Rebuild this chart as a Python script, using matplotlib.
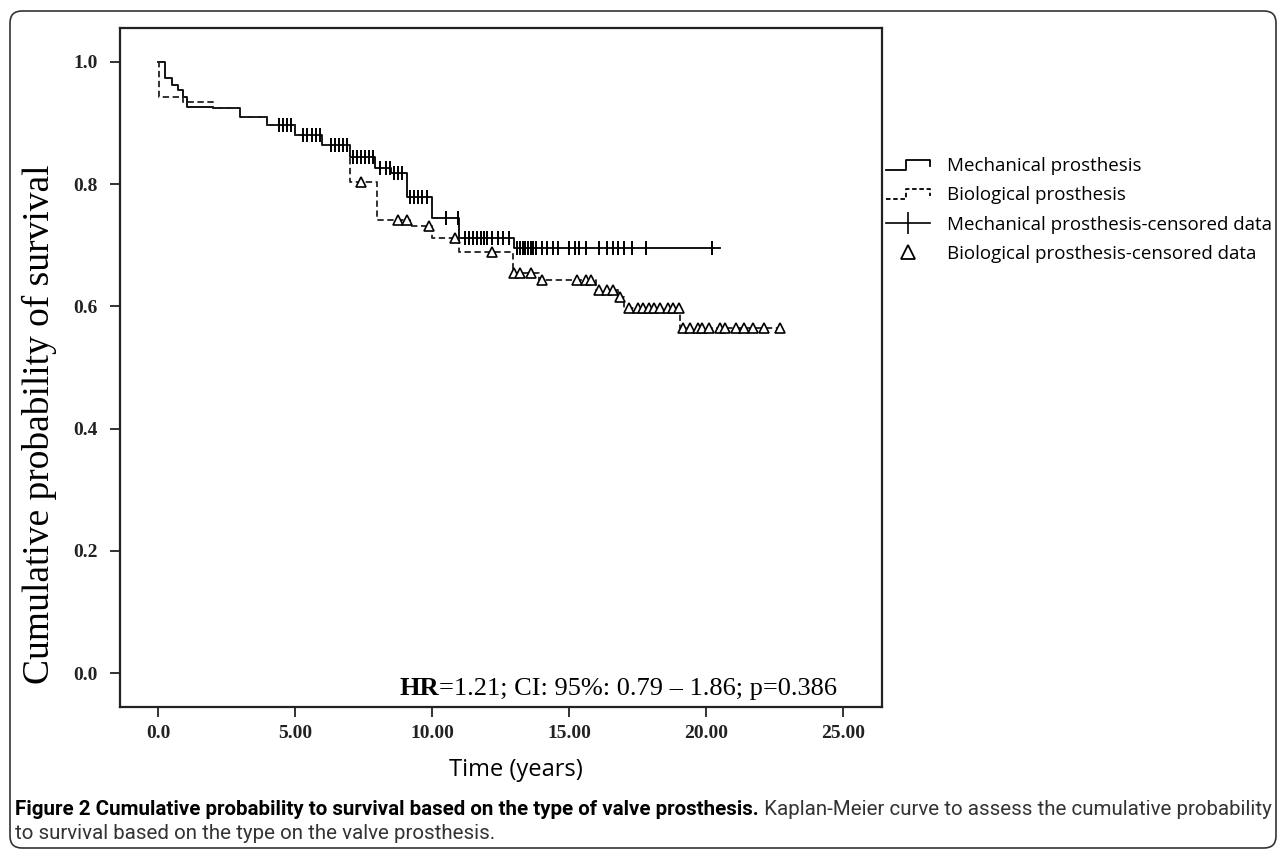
import matplotlib
matplotlib.use('Agg')
import matplotlib.pyplot as plt
import numpy as np
from matplotlib.lines import Line2D
from matplotlib.legend_handler import HandlerBase
from matplotlib.patches import FancyBboxPatch

plt.rcParams.update({
    'font.family': 'Liberation Serif',
    'axes.linewidth': 1.6,
    'axes.edgecolor': '#222222',
})

# Kaplan-Meier steps (time in years, survival)
mech_times = [0, 0.25, 0.5, 0.73, 0.9, 1.06, 2.0, 3.0, 3.97, 5.0, 6.0, 7.0, 7.9, 8.5, 9.1, 10.0, 11.0, 13.0]
mech_surv = [1.0, 0.974, 0.962, 0.954, 0.943, 0.926, 0.924, 0.91, 0.897, 0.88, 0.864, 0.845, 0.826, 0.818,
             0.779, 0.745, 0.712, 0.695]
mech_end = 20.5
mech_censor = [4.4, 4.55, 4.7, 4.85, 5.3, 5.45, 5.6, 5.75, 5.9, 6.3, 6.45, 6.6, 6.75, 6.9,
               7.1, 7.25, 7.4, 7.55, 7.7, 7.85, 8.1, 8.3, 8.45, 8.6, 8.75, 8.9, 9.2, 9.35, 9.5,
               9.65, 9.8, 10.5, 10.95, 11.2, 11.35, 11.5, 11.65, 11.8, 11.9, 12.0, 12.2, 12.4,
               12.6, 12.8, 13.1, 13.2, 13.3, 13.4, 13.5, 13.6, 13.7, 13.8, 14.0, 14.2, 14.4,
               14.6, 15.0, 15.2, 15.35, 15.6, 16.1, 16.4, 16.6, 16.8, 17.0, 17.3, 17.8, 20.2]

bio_times = [0, 0.05, 0.9, 2.0, 3.0, 3.97, 5.0, 6.0, 7.0, 8.0, 9.2, 10.0, 11.0, 12.96, 13.9, 16.0,
             16.8, 17.0, 19.05]
bio_surv = [1.0, 0.943, 0.935, 0.924, 0.91, 0.897, 0.88, 0.864, 0.804, 0.741, 0.732, 0.712, 0.689,
            0.655, 0.643, 0.627, 0.616, 0.597, 0.565]
bio_end = 22.7
bio_censor = [7.4, 8.75, 9.1, 9.9, 10.85, 12.2, 13.0, 13.2, 13.6, 14.0, 15.3, 15.6, 15.8, 16.1,
              16.4, 16.6, 16.85, 17.2, 17.5, 17.7, 17.9, 18.1, 18.3, 18.6, 18.8, 19.0, 19.15,
              19.4, 19.7, 19.85, 20.1, 20.5, 20.7, 21.1, 21.4, 21.7, 22.1, 22.7]

x_ticks = [0, 5, 10, 15, 20, 25]
x_ticklabels = ['0.0', '5.00', '10.00', '15.00', '20.00', '25.00']
y_ticks = [0.0, 0.2, 0.4, 0.6, 0.8, 1.0]
y_ticklabels = ['0.0', '0.2', '0.4', '0.6', '0.8', '1.0']

legend_labels = ['Mechanical prosthesis', 'Biological prosthesis',
                 'Mechanical prosthesis-censored data', 'Biological prosthesis-censored data']


def km_at(times, surv, t):
    idx = np.searchsorted(times, t, side='right') - 1
    return np.asarray(surv)[idx]


class StepHandler(HandlerBase):
    # little step icon like the SPSS legend
    def __init__(self, ls):
        super().__init__()
        self.ls = ls

    def create_artists(self, legend, orig_handle, xdescent, ydescent, width, height, fontsize, trans):
        x0, y0 = -xdescent, -ydescent
        xs = [x0, x0 + 0.45 * width, x0 + 0.45 * width, x0 + width, x0 + width]
        ys = [y0 + 0.1 * height, y0 + 0.1 * height, y0 + 0.85 * height, y0 + 0.85 * height, y0 + 0.35 * height]
        line = Line2D(xs, ys, color='black', lw=1.3, linestyle=self.ls, transform=trans)
        return [line]


fig = plt.figure(figsize=(12.82, 8.55), dpi=100)
ax = fig.add_axes([120 / 1282, 148 / 855, 762 / 1282, 679 / 855])

ax.step(mech_times + [mech_end], mech_surv + [mech_surv[-1]], where='post', color='black', lw=1.3)
ax.step(bio_times + [bio_end], bio_surv + [bio_surv[-1]], where='post', color='#222222', lw=1.3,
        linestyle=(0, (3.5, 2)))
ax.plot(mech_censor, km_at(mech_times, mech_surv, mech_censor), ls='none', marker='|',
        markersize=10, mew=1.4, color='black')
ax.plot(bio_censor, km_at(bio_times, bio_surv, bio_censor), ls='none', marker='^',
        markersize=7.5, mew=1.2, mfc='white', mec='black')

ax.set_xlim(-1.39, 26.42)
ax.set_ylim(-0.0556, 1.0556)
ax.set_xticks(x_ticks)
ax.set_xticklabels(x_ticklabels)
ax.set_yticks(y_ticks)
ax.set_yticklabels(y_ticklabels)
ax.tick_params(axis='both', direction='out', length=7, width=1.3, color='#222222',
               labelsize=14)
ax.tick_params(axis='x', pad=6)
ax.tick_params(axis='y', pad=9)
for lbl in ax.get_xticklabels() + ax.get_yticklabels():
    lbl.set_fontweight('bold')
    lbl.set_color('#222222')

ax.set_ylabel('Cumulative probability of survival', fontsize=27)
ax.yaxis.set_label_coords(-0.083, 0.417)
ax.set_xlabel('Time (years)', fontsize=17, family='Open Sans')
ax.xaxis.set_label_coords(0.52, -0.075)

hr = ax.text(0.367, 0.0177, 'HR', transform=ax.transAxes, fontsize=19, fontweight='bold',
             va='baseline')
ax.annotate('=1.21; CI: 95%: 0.79 \u2013 1.86; p=0.386', xy=(1, 0), xycoords=hr,
            fontsize=19, va='bottom')

# legend outside the plot on the right
h_mech = Line2D([], [], color='black')
h_bio = Line2D([], [], color='black')
h_mc = Line2D([], [], color='black', lw=1.2, marker='|', markersize=16, mew=1.2)
h_bc = Line2D([], [], ls='none', marker='^', markersize=10, mew=1.3, mfc='white', mec='black')
fig.legend([h_mech, h_bio, h_mc, h_bc], legend_labels,
           handler_map={h_mech: StepHandler('-'), h_bio: StepHandler((0, (2.5, 1.5)))},
           loc='upper left', bbox_to_anchor=(886 / 1282, 1 - 157 / 855), frameon=False,
           borderpad=0, borderaxespad=0, handlelength=2.35, handletextpad=0.9,
           labelspacing=0.6, prop={'family': 'Open Sans', 'size': 13.5})

# caption under the figure
cap_font = 'Roboto'
c1 = fig.text(15 / 1282, 1 - 809 / 855,
              'Figure 2 Cumulative probability to survival based on the type of valve prosthesis.',
              fontsize=14.8, fontweight='bold', family=cap_font, va='center')
fig.text(15 / 1282, 1 - 833 / 855, 'to survival based on the type on the valve prosthesis.',
         fontsize=14.8, family=cap_font, va='center', color='#333333')
ax.annotate(' Kaplan-Meier curve to assess the cumulative probability', xy=(1, 0.5),
            xycoords=c1, fontsize=14.8, family=cap_font, va='center', color='#333333',
            annotation_clip=False)

# rounded frame round the whole panel
frame = FancyBboxPatch((0.10, 0.07), 12.66, 8.37, boxstyle='round,pad=0,rounding_size=0.12',
                       transform=fig.dpi_scale_trans, fill=False, lw=1.2, ec='#333333')
fig.patches.append(frame)

plt.savefig('out.png', dpi=100)
plt.close()
